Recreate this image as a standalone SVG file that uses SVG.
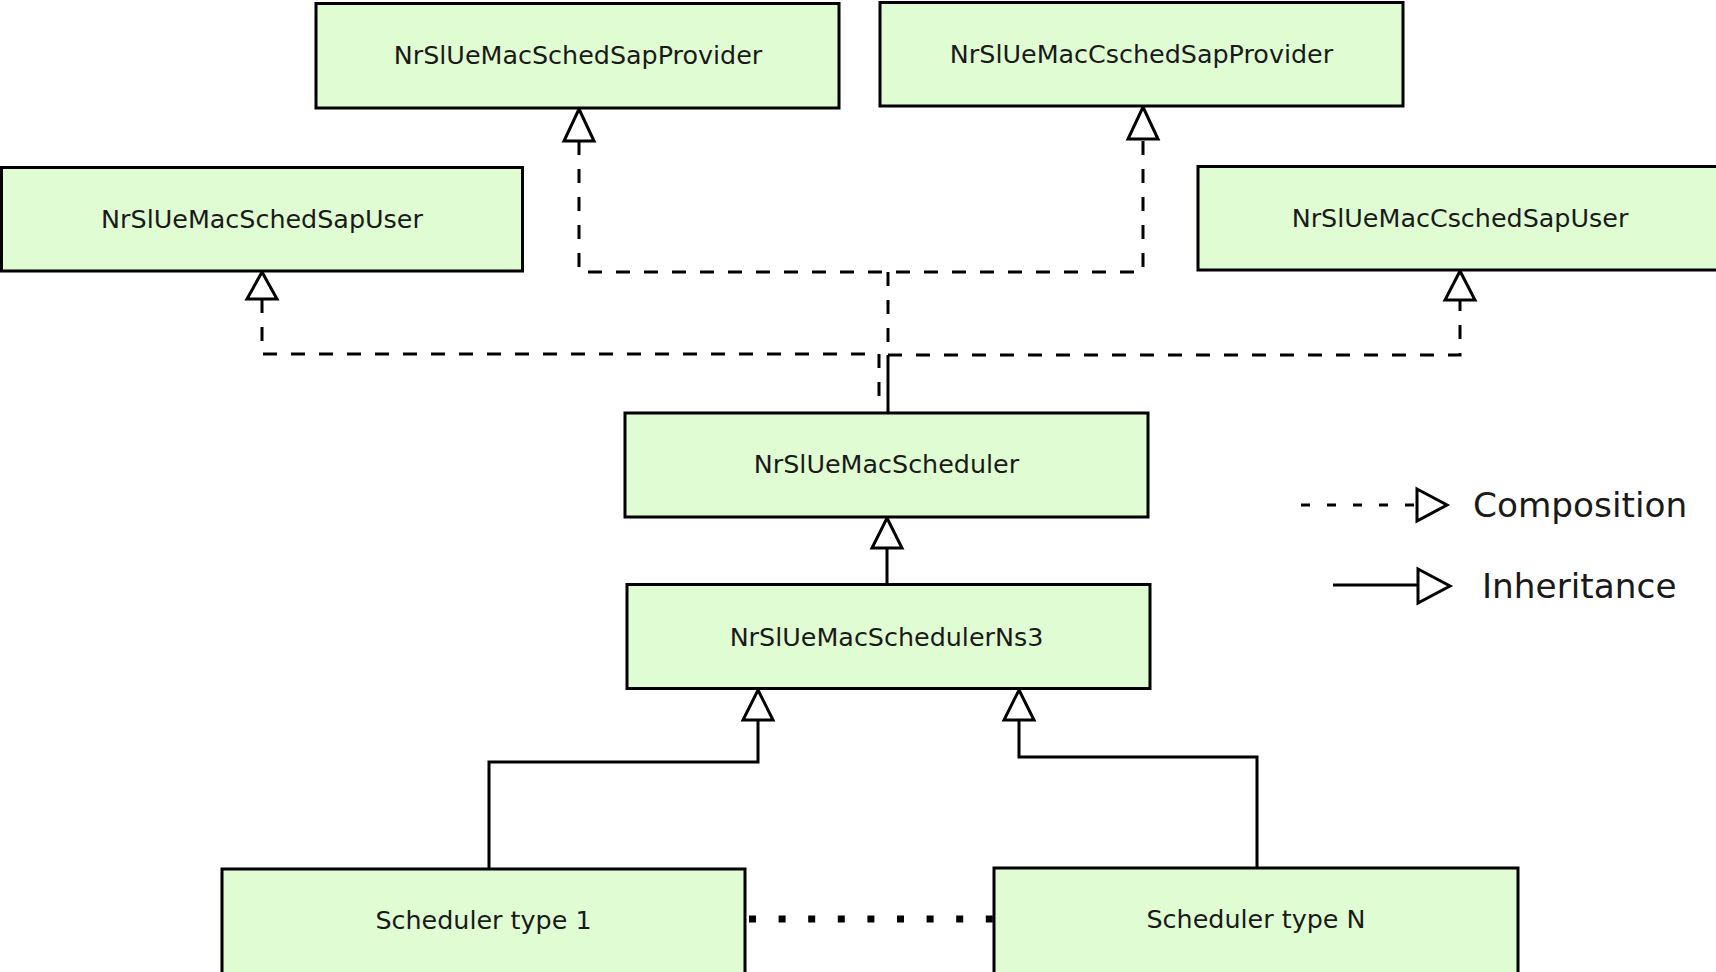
<svg xmlns="http://www.w3.org/2000/svg" width="1716" height="972" viewBox="0 0 1716 972">
  <style>
    .box { fill: #e0fcd2; stroke: #000; stroke-width: 3; }
    .lbl { font-family: "DejaVu Sans", sans-serif; font-size: 25.4px; fill: #1a1a1a; text-anchor: middle; dominant-baseline: central; }
    .leg { font-family: "DejaVu Sans", sans-serif; font-size: 34.3px; fill: #1a1a1a; }
    .dash { fill: none; stroke: #000; stroke-width: 3; stroke-dasharray: 14 14; }
    .solid { fill: none; stroke: #000; stroke-width: 3; }
    .dots { fill: none; stroke: #000; stroke-width: 7; stroke-dasharray: 7 22.6; }
    .head { fill: #fff; stroke: #000; stroke-width: 3; stroke-linejoin: miter; }
  </style>
  <rect width="1716" height="972" fill="#fff"/>

  <!-- connectors -->
  <g id="connectors">
    <!-- realisation of SAP interfaces (dashed) -->
    <path class="dash" d="M579 141 V272 H1143 V139"/>
    <path class="dash" d="M888 272 V355"/>
    <path class="dash" d="M888 355 H1460 V300"/>
    <path class="dash" d="M262 299 V354 H879 V400"/>
    <path class="solid" d="M888 355 V413"/>
    <!-- inheritance (solid) -->
    <path class="solid" d="M887 548 V584"/>
    <path class="solid" d="M758 720 V762 H489 V869"/>
    <path class="solid" d="M1019 720 V757 H1257 V868"/>
    <!-- "..." between scheduler types -->
    <path class="dots" d="M749 919 H994"/>
    <!-- hollow triangle heads -->
    <polygon class="head" points="579,109 594,141 564,141"/>
    <polygon class="head" points="1143,107 1158,139 1128,139"/>
    <polygon class="head" points="262,272 277,299 247,299"/>
    <polygon class="head" points="1460,271 1475,300 1445,300"/>
    <polygon class="head" points="887,518 902,548 872,548"/>
    <polygon class="head" points="758,690 773,720 743,720"/>
    <polygon class="head" points="1019,690 1034,720 1004,720"/>
  </g>

  <g id="NrSlUeMacSchedSapProvider">
    <rect class="box" x="316" y="3.5" width="523" height="104.5"/>
    <text class="lbl" x="578" y="55">NrSlUeMacSchedSapProvider</text>
  </g>
  <g id="NrSlUeMacCschedSapProvider">
    <rect class="box" x="880" y="2.5" width="523" height="103.5"/>
    <text class="lbl" x="1141.5" y="53.5">NrSlUeMacCschedSapProvider</text>
  </g>
  <g id="NrSlUeMacSchedSapUser">
    <rect class="box" x="1.5" y="167.5" width="521" height="103.5"/>
    <text class="lbl" x="262" y="219">NrSlUeMacSchedSapUser</text>
  </g>
  <g id="NrSlUeMacCschedSapUser">
    <rect class="box" x="1198" y="166.5" width="523" height="103.5"/>
    <text class="lbl" x="1460" y="217.5">NrSlUeMacCschedSapUser</text>
  </g>
  <g id="NrSlUeMacScheduler">
    <rect class="box" x="625" y="413" width="523" height="104"/>
    <text class="lbl" x="886.5" y="464">NrSlUeMacScheduler</text>
  </g>
  <g id="NrSlUeMacSchedulerNs3">
    <rect class="box" x="627" y="584.5" width="523" height="104"/>
    <text class="lbl" x="886.5" y="637">NrSlUeMacSchedulerNs3</text>
  </g>
  <g id="SchedulerType1">
    <rect class="box" x="222" y="869" width="523" height="110"/>
    <text class="lbl" x="483.5" y="920">Scheduler type 1</text>
  </g>
  <g id="SchedulerTypeN">
    <rect class="box" x="994" y="868" width="524" height="110"/>
    <text class="lbl" x="1256" y="918.5">Scheduler type N</text>
  </g>

  <!-- legend -->
  <g id="legend">
    <path d="M1301 505 H1417" fill="none" stroke="#000" stroke-width="3" stroke-dasharray="9 17"/>
    <polygon class="head" points="1417,489 1447,505 1417,521"/>
    <text class="leg" x="1473" y="517">Composition</text>
    <path class="solid" d="M1333 585 H1418"/>
    <polygon class="head" points="1418,569 1450,586 1418,603"/>
    <text class="leg" x="1482" y="598">Inheritance</text>
  </g>
</svg>
